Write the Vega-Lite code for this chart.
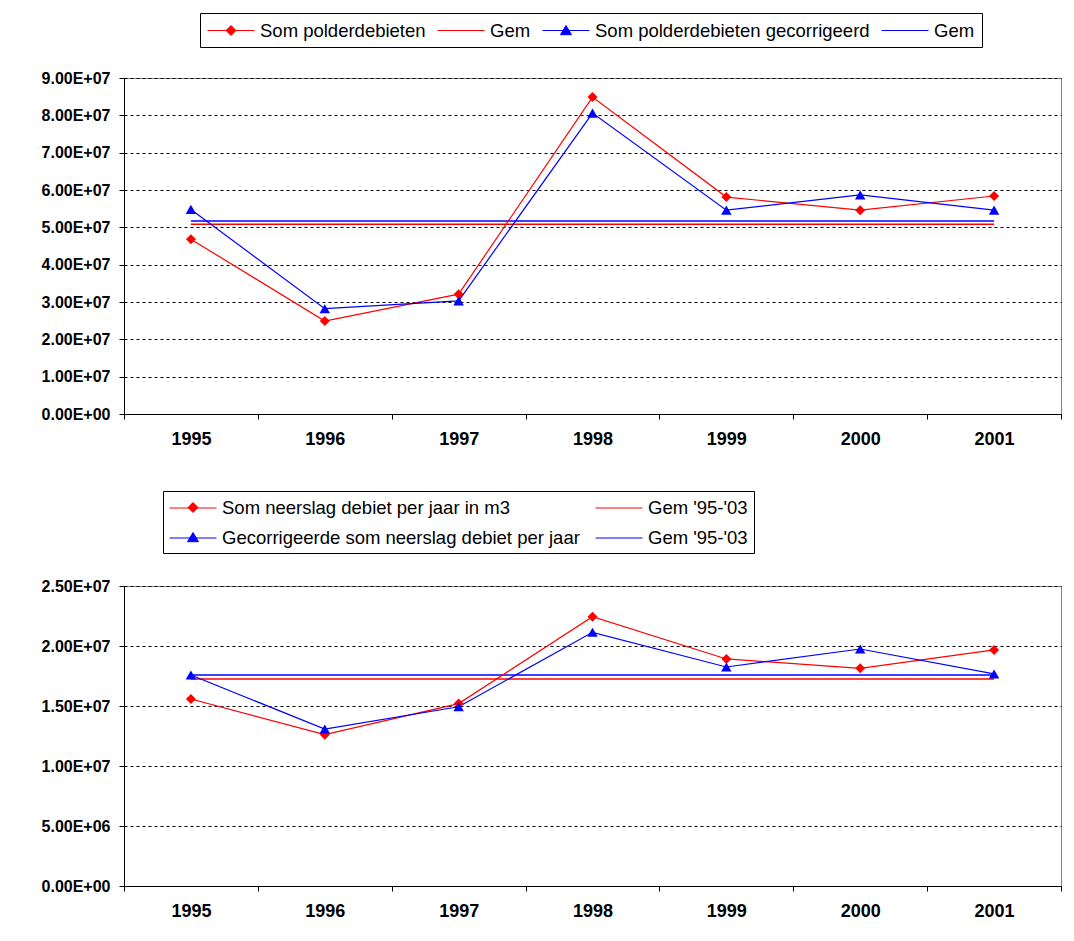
{
  "$schema": "https://vega.github.io/schema/vega-lite/v6.json",
  "padding": {"left": 40, "top": 12, "right": 5, "bottom": 5},
  "background": "white",
  "spacing": 41,
  "config": {
    "font": "Liberation Sans",
    "view": {"stroke": "#808080", "strokeWidth": 1},
    "axis": {"domainColor": "black", "tickColor": "black", "labelColor": "black", "labelFont": "Liberation Sans", "labelFontWeight": "bold", "labelFontSize": 16, "tickSize": 5, "domainWidth": 1, "tickWidth": 1},
    "axisY": {"grid": true, "gridColor": "black", "gridDash": [3, 3], "gridWidth": 1, "labelPadding": 9},
    "axisX": {"grid": false, "labelPadding": 11, "labelFontSize": 18},
    "legend": {"strokeColor": "black", "strokeWidth": 1, "fillColor": "white", "padding": 7, "labelFont": "Liberation Sans", "labelFontSize": 18.5, "labelColor": "black", "labelLimit": 0, "symbolStrokeWidth": 1, "symbolOpacity": 1, "columnPadding": 9, "cornerRadius": 0, "symbolSize": 400}
  },
  "resolve": {"scale": {"stroke": "independent", "fill": "independent", "shape": "independent", "x": "independent", "y": "independent"}, "legend": {"stroke": "independent", "fill": "independent", "shape": "independent"}},
  "vconcat": [
    {
      "width": 937,
      "height": 336,
      "data": {"values": [
        {"year": "1995", "series": "Som polderdebieten", "value": 46800000},
        {"year": "1996", "series": "Som polderdebieten", "value": 24900000},
        {"year": "1997", "series": "Som polderdebieten", "value": 32100000},
        {"year": "1998", "series": "Som polderdebieten", "value": 84900000},
        {"year": "1999", "series": "Som polderdebieten", "value": 58100000},
        {"year": "2000", "series": "Som polderdebieten", "value": 54600000},
        {"year": "2001", "series": "Som polderdebieten", "value": 58400000},
        {"year": "1995", "series": "Som polderdebieten gecorrigeerd", "value": 54800000},
        {"year": "1996", "series": "Som polderdebieten gecorrigeerd", "value": 28200000},
        {"year": "1997", "series": "Som polderdebieten gecorrigeerd", "value": 30300000},
        {"year": "1998", "series": "Som polderdebieten gecorrigeerd", "value": 80600000},
        {"year": "1999", "series": "Som polderdebieten gecorrigeerd", "value": 54600000},
        {"year": "2000", "series": "Som polderdebieten gecorrigeerd", "value": 58700000},
        {"year": "2001", "series": "Som polderdebieten gecorrigeerd", "value": 54600000},
        {"year": "1995", "series": "Gem", "value": 50800000},
        {"year": "2001", "series": "Gem", "value": 50800000},
        {"year": "1995", "series": "Gem (gecorrigeerd)", "value": 51700000},
        {"year": "2001", "series": "Gem (gecorrigeerd)", "value": 51700000}
      ]},
      "encoding": {
        "x": {"field": "year", "type": "ordinal", "bandPosition": 0.5, "scale": {"type": "band", "paddingInner": 0, "paddingOuter": 0, "domain": ["1995", "1996", "1997", "1998", "1999", "2000", "2001"]}, "axis": {"title": null, "labelAngle": 0, "tickBand": "extent"}},
        "y": {"field": "value", "type": "quantitative", "scale": {"domain": [0, 90000000], "nice": false}, "axis": {"title": null, "values": [0, 10000000, 20000000, 30000000, 40000000, 50000000, 60000000, 70000000, 80000000, 90000000], "labelExpr": "datum.value == 0 ? '0.00E+00' : format(datum.value / pow(10, floor(log(datum.value) / LN10 + 1e-9)), '.2f') + 'E+' + format(floor(log(datum.value) / LN10 + 1e-9), '02d')"}}
      },
      "layer": [
        {
          "mark": {"type": "point", "filled": true, "opacity": 0},
          "encoding": {
            "stroke": {"field": "series", "type": "nominal", "scale": {"domain": ["Som polderdebieten", "Gem", "Som polderdebieten gecorrigeerd", "Gem (gecorrigeerd)"], "range": ["#FF0000", "#FF0000", "#0000FF", "#0000FF"]}, "legend": {"title": null, "orient": "none", "legendX": 76, "legendY": -65, "columns": 4, "direction": "horizontal", "labelOffset": 32, "labelExpr": "replace(datum.label, ' (gecorrigeerd)', '')"}},
            "fill": {"field": "series", "type": "nominal", "scale": {"domain": ["Som polderdebieten", "Gem", "Som polderdebieten gecorrigeerd", "Gem (gecorrigeerd)"], "range": ["#FF0000", "#FF0000", "#0000FF", "#0000FF"]}, "legend": {"title": null, "orient": "none", "legendX": 76, "legendY": -65, "columns": 4, "direction": "horizontal", "labelOffset": 32, "labelExpr": "replace(datum.label, ' (gecorrigeerd)', '')"}},
            "shape": {"field": "series", "type": "nominal", "scale": {"domain": ["Som polderdebieten", "Gem", "Som polderdebieten gecorrigeerd", "Gem (gecorrigeerd)"], "range": ["M-1,0H3.7M0.85,0L1.35,-0.5L1.85,0L1.35,0.5Z", "M-1,0H3.7", "M-1,0H3.7M0.8,0.42L1.35,-0.5L1.9,0.42Z", "M-1,0H3.7"]}, "legend": {"title": null, "orient": "none", "legendX": 76, "legendY": -65, "columns": 4, "direction": "horizontal", "labelOffset": 32, "labelExpr": "replace(datum.label, ' (gecorrigeerd)', '')"}}
          }
        },
        {
          "transform": [{"filter": "datum.series == 'Gem' || datum.series == 'Gem (gecorrigeerd)'"}],
          "mark": {"type": "line", "strokeWidth": 1.5},
          "encoding": {"stroke": {"field": "series", "type": "nominal"}}
        },
        {
          "transform": [{"filter": "datum.series == 'Som polderdebieten' || datum.series == 'Som polderdebieten gecorrigeerd'"}],
          "mark": {"type": "line", "strokeWidth": 1.2},
          "encoding": {"stroke": {"field": "series", "type": "nominal"}}
        },
        {
          "transform": [{"filter": "datum.series == 'Som polderdebieten'"}],
          "mark": {"type": "point", "shape": "diamond", "size": 100, "filled": true, "opacity": 1},
          "encoding": {"fill": {"field": "series", "type": "nominal"}}
        },
        {
          "transform": [{"filter": "datum.series == 'Som polderdebieten gecorrigeerd'"}],
          "mark": {"type": "point", "shape": "triangle-up", "size": 110, "filled": true, "opacity": 1},
          "encoding": {"fill": {"field": "series", "type": "nominal"}}
        }
      ]
    },
    {
      "width": 937,
      "height": 300,
      "data": {"values": [
        {"year": "1995", "series": "Som neerslag debiet per jaar in m3", "value": 15580000},
        {"year": "1996", "series": "Som neerslag debiet per jaar in m3", "value": 12610000},
        {"year": "1997", "series": "Som neerslag debiet per jaar in m3", "value": 15200000},
        {"year": "1998", "series": "Som neerslag debiet per jaar in m3", "value": 22440000},
        {"year": "1999", "series": "Som neerslag debiet per jaar in m3", "value": 18920000},
        {"year": "2000", "series": "Som neerslag debiet per jaar in m3", "value": 18140000},
        {"year": "2001", "series": "Som neerslag debiet per jaar in m3", "value": 19670000},
        {"year": "1995", "series": "Gecorrigeerde som neerslag debiet per jaar", "value": 17580000},
        {"year": "1996", "series": "Gecorrigeerde som neerslag debiet per jaar", "value": 13080000},
        {"year": "1997", "series": "Gecorrigeerde som neerslag debiet per jaar", "value": 14940000},
        {"year": "1998", "series": "Gecorrigeerde som neerslag debiet per jaar", "value": 21140000},
        {"year": "1999", "series": "Gecorrigeerde som neerslag debiet per jaar", "value": 18250000},
        {"year": "2000", "series": "Gecorrigeerde som neerslag debiet per jaar", "value": 19750000},
        {"year": "2001", "series": "Gecorrigeerde som neerslag debiet per jaar", "value": 17670000},
        {"year": "1995", "series": "Gem '95-'03", "value": 17250000},
        {"year": "2001", "series": "Gem '95-'03", "value": 17250000},
        {"year": "1995", "series": "Gem '95-'03 (gecorrigeerd)", "value": 17580000},
        {"year": "2001", "series": "Gem '95-'03 (gecorrigeerd)", "value": 17580000}
      ]},
      "encoding": {
        "x": {"field": "year", "type": "ordinal", "bandPosition": 0.5, "scale": {"type": "band", "paddingInner": 0, "paddingOuter": 0, "domain": ["1995", "1996", "1997", "1998", "1999", "2000", "2001"]}, "axis": {"title": null, "labelAngle": 0, "tickBand": "extent"}},
        "y": {"field": "value", "type": "quantitative", "scale": {"domain": [0, 25000000], "nice": false}, "axis": {"title": null, "values": [0, 5000000, 10000000, 15000000, 20000000, 25000000], "labelExpr": "datum.value == 0 ? '0.00E+00' : format(datum.value / pow(10, floor(log(datum.value) / LN10 + 1e-9)), '.2f') + 'E+' + format(floor(log(datum.value) / LN10 + 1e-9), '02d')"}}
      },
      "layer": [
        {
          "mark": {"type": "point", "filled": true, "opacity": 0},
          "encoding": {
            "stroke": {"field": "series", "type": "nominal", "scale": {"domain": ["Som neerslag debiet per jaar in m3", "Gem '95-'03", "Gecorrigeerde som neerslag debiet per jaar", "Gem '95-'03 (gecorrigeerd)"], "range": ["#FF0000", "#FF0000", "#0000FF", "#0000FF"]}, "legend": {"title": null, "orient": "none", "legendX": 39, "legendY": -95, "columns": 2, "direction": "horizontal", "padding": 6, "rowPadding": 10, "columnPadding": 13, "labelOffset": 32, "labelExpr": "replace(datum.label, ' (gecorrigeerd)', '')"}},
            "fill": {"field": "series", "type": "nominal", "scale": {"domain": ["Som neerslag debiet per jaar in m3", "Gem '95-'03", "Gecorrigeerde som neerslag debiet per jaar", "Gem '95-'03 (gecorrigeerd)"], "range": ["#FF0000", "#FF0000", "#0000FF", "#0000FF"]}, "legend": {"title": null, "orient": "none", "legendX": 39, "legendY": -95, "columns": 2, "direction": "horizontal", "padding": 6, "rowPadding": 10, "columnPadding": 13, "labelOffset": 32, "labelExpr": "replace(datum.label, ' (gecorrigeerd)', '')"}},
            "shape": {"field": "series", "type": "nominal", "scale": {"domain": ["Som neerslag debiet per jaar in m3", "Gem '95-'03", "Gecorrigeerde som neerslag debiet per jaar", "Gem '95-'03 (gecorrigeerd)"], "range": ["M-1,0.05H3.7M0.85,0L1.35,-0.5L1.85,0L1.35,0.5Z", "M-1,0.05H3.7", "M-1,0.05H3.7M0.8,0.42L1.35,-0.5L1.9,0.42Z", "M-1,0.05H3.7"]}, "legend": {"title": null, "orient": "none", "legendX": 39, "legendY": -95, "columns": 2, "direction": "horizontal", "padding": 6, "rowPadding": 10, "columnPadding": 13, "labelOffset": 32, "labelExpr": "replace(datum.label, ' (gecorrigeerd)', '')"}}
          }
        },
        {
          "transform": [{"filter": "indexof(datum.series, 'Gem') == 0"}],
          "mark": {"type": "line", "strokeWidth": 1.5},
          "encoding": {"stroke": {"field": "series", "type": "nominal"}}
        },
        {
          "transform": [{"filter": "indexof(datum.series, 'Gem') != 0"}],
          "mark": {"type": "line", "strokeWidth": 1.2},
          "encoding": {"stroke": {"field": "series", "type": "nominal"}}
        },
        {
          "transform": [{"filter": "datum.series == 'Som neerslag debiet per jaar in m3'"}],
          "mark": {"type": "point", "shape": "diamond", "size": 100, "filled": true, "opacity": 1},
          "encoding": {"fill": {"field": "series", "type": "nominal"}}
        },
        {
          "transform": [{"filter": "datum.series == 'Gecorrigeerde som neerslag debiet per jaar'"}],
          "mark": {"type": "point", "shape": "triangle-up", "size": 110, "filled": true, "opacity": 1},
          "encoding": {"fill": {"field": "series", "type": "nominal"}}
        }
      ]
    }
  ]
}
